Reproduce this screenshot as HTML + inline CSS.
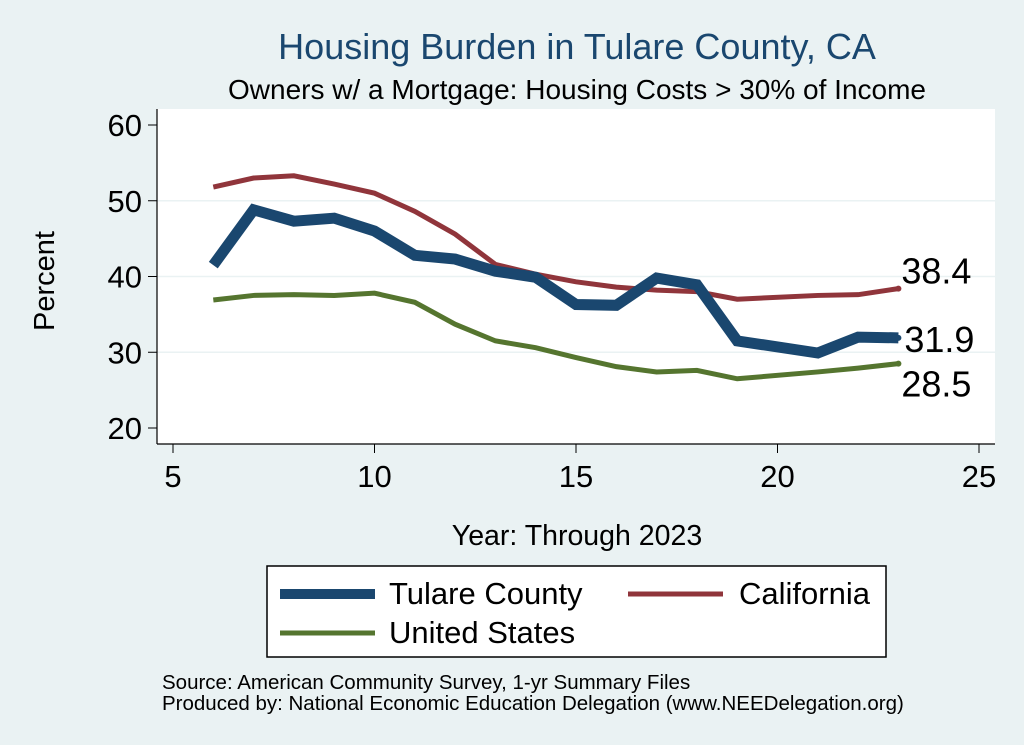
<!DOCTYPE html>
<html><head><meta charset="utf-8"><style>
body{margin:0;background:#eaf2f3;font-family:"Liberation Sans",sans-serif;}
svg{display:block}
</style></head><body>
<svg width="1024" height="745">
<rect x="0" y="0" width="1024" height="745" fill="#eaf2f3"/>
<text x="577" y="59" font-size="36" fill="#1a476f" text-anchor="middle">Housing Burden in Tulare County, CA</text>
<text x="577" y="99" font-size="28" fill="#000" text-anchor="middle">Owners w/ a Mortgage: Housing Costs &gt; 30% of Income</text>
<rect x="157" y="109" width="838" height="335" fill="#fff"/>
<g id="grid"></g><g id="axes"></g><g id="series"></g>
<text x="54" y="281" font-size="29" text-anchor="middle" transform="rotate(-90 54 281)">Percent</text>
<text x="577" y="545" font-size="28.5" text-anchor="middle">Year: Through 2023</text>
<g>
<rect x="267" y="566" width="619" height="91" fill="#fff" stroke="#000" stroke-width="1.5"/>
<line x1="280" y1="594" x2="375" y2="594" stroke="#1a476f" stroke-width="10"/>
<text x="389" y="604" font-size="31">Tulare County</text>
<line x1="628" y1="594" x2="723" y2="594" stroke="#90353b" stroke-width="5"/>
<text x="739" y="604" font-size="31">California</text>
<line x1="280" y1="633" x2="375" y2="633" stroke="#55752f" stroke-width="5"/>
<text x="389" y="643" font-size="31">United States</text>
</g>
<text x="162" y="689" font-size="20.5">Source: American Community Survey, 1-yr Summary Files</text>
<text x="162" y="710" font-size="20.5">Produced by: National Economic Education Delegation (www.NEEDelegation.org)</text>
</svg>
<script>
const years=[6,7,8,9,10,11,12,13,14,15,16,17,18,19,21,22,23];
const tulare=[41.5,48.8,47.3,47.7,46,42.8,42.3,40.7,39.9,36.3,36.2,39.8,38.9,31.5,29.9,32,31.9];
const california=[51.8,53,53.3,52.2,51,48.6,45.6,41.6,40.3,39.3,38.6,38.2,38,37,37.5,37.6,38.4];
const us=[36.9,37.5,37.6,37.5,37.8,36.6,33.7,31.5,30.6,29.3,28.1,27.4,27.6,26.5,27.4,27.9,28.5];
const yTicks=[20,30,40,50,60];
const xTicks=[5,10,15,20,25];
const NS="http://www.w3.org/2000/svg";
function sx(v){return 173+(v-5)*40.3;}
function sy(v){return 428-(v-20)*7.575;}
function mk(t,a,p){const e=document.createElementNS(NS,t);for(const k in a)e.setAttribute(k,a[k]);p.appendChild(e);return e;}
const grid=document.getElementById('grid'),axes=document.getElementById('axes'),ser=document.getElementById('series');
yTicks.forEach(v=>{
 if(v>20&&v<60){const g=mk('line',{x1:157,x2:995,y1:sy(v),y2:sy(v),stroke:'#eaf2f3','stroke-width':1.5},grid);
 
 }
 mk('line',{x1:148,x2:157,y1:sy(v),y2:sy(v),stroke:'#000','stroke-width':1},axes);
 const t=mk('text',{x:142,y:sy(v)+11,'font-size':31,'text-anchor':'end'},axes);t.textContent=v;
 
 
});
xTicks.forEach(v=>{
 mk('line',{x1:sx(v),x2:sx(v),y1:444,y2:453,stroke:'#000','stroke-width':1},axes);
 const t=mk('text',{x:sx(v),y:487,'font-size':31,'text-anchor':'middle'},axes);t.textContent=v;
 
 
});
mk('line',{x1:157,x2:157,y1:109,y2:444,stroke:'#000','stroke-width':1.2},axes);
mk('line',{x1:157,x2:995,y1:444,y2:444,stroke:'#000','stroke-width':1.2},axes);
function line(vals,col,w,name){
 const p=mk('polyline',{points:years.map((y,i)=>sx(y)+','+sy(vals[i])).join(' '),fill:'none',stroke:col,'stroke-width':w,'stroke-linejoin':'miter'},ser);
 
 
}
line(california,'#90353b',5,'line-california');
line(us,'#55752f',5,'line-us');
line(tulare,'#1a476f',11,'line-tulare');
const n=years.length-1;
[[california,'#90353b',-5,3,'label-california'],[tulare,'#1a476f',14,6,'label-tulare'],[us,'#55752f',33,3,'label-us']].forEach(([v,c,dy,dx,nm])=>{
 mk('circle',{cx:sx(years[n]),cy:sy(v[n]),r:3,fill:c},ser);
 const t=mk('text',{x:sx(years[n])+dx,y:sy(v[n])+dy,'font-size':36},ser);t.textContent=v[n].toFixed(1);
 
 
});
</script>
</body></html>
